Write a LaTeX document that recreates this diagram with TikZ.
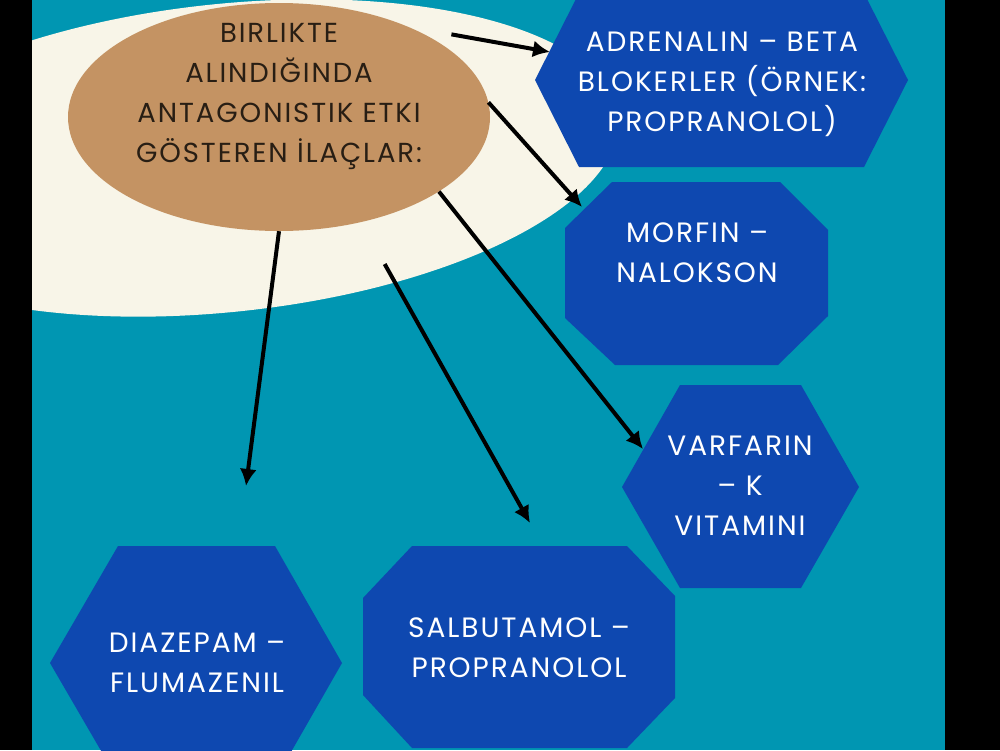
\documentclass[tikz,border=0pt]{standalone}
\usepackage{fontspec}
\setmainfont{Poppins}
\newfontfamily\widefont[LetterSpace=7]{Poppins}
\usetikzlibrary{arrows.meta,shapes.geometric}

\definecolor{bgteal}{RGB}{0,150,178}
\definecolor{cream}{RGB}{248,245,232}
\definecolor{hubtan}{RGB}{196,147,99}
\definecolor{drugblue}{RGB}{14,72,176}
\definecolor{hubink}{RGB}{40,30,20}

\begin{document}
\begin{tikzpicture}[
    x=1pt, y=-1pt,
    hub/.style={ellipse, fill=hubtan, inner sep=0pt, minimum width=422pt, minimum height=228pt},
    hubtext/.style={align=center, text=hubink, font=\widefont\fontsize{27.5}{40}\selectfont},
    drugtext/.style={align=center, text=white, font=\widefont\fontsize{28}{40}\selectfont},
    drugshape/.style={fill=drugblue},
    arrow/.style={-{Latex[length=17pt,width=17pt]}, line width=4pt}
  ]
    \useasboundingbox (0,0) rectangle (1000,750);
    \fill[black] (0,0) rectangle (1000,750);
    \fill[bgteal] (32,0) rectangle (945,750);

    \begin{scope}
      \clip (32,0) rectangle (945,750);
      \fill[cream, rotate around={6:(225,158)}] (225,158) ellipse [x radius=395, y radius=154];
      % drug shapes
      \fill[drugshape] (535,80) -- (579,-7) -- (864,-7) -- (908,80) -- (864,167) -- (579,167) -- cycle;
      \fill[drugshape] (565,228) -- (612,182) -- (780,182) -- (828,230) -- (828,316) -- (778,365) -- (615,365) -- (565,318) -- cycle;
      \fill[drugshape] (622,487) -- (680,385) -- (801,385) -- (859,487) -- (801,588) -- (680,588) -- cycle;
      \fill[drugshape] (50,663) -- (118,546) -- (275,546) -- (342,663) -- (275,780) -- (118,780) -- cycle;
      \fill[drugshape] (363,598) -- (412,546) -- (627,546) -- (675,596) -- (675,698) -- (627,748) -- (412,748) -- (363,695) -- cycle;
    \end{scope}

    \node[hub] (hub) at (279,117) {};
    \node[hubtext] (title) at (279,96) {BIRLIKTE\\ALINDIĞINDA\\ANTAGONISTIK ETKI\\GÖSTEREN İLAÇLAR:};

    \node[drugtext] (adrenalin) at (722,84) {ADRENALIN – BETA\\BLOKERLER (ÖRNEK:\\PROPRANOLOL)};
    \node[drugtext] (morfin) at (697,253) {MORFIN –\\NALOKSON};
    \node[drugtext] (varfarin) at (740,486) {VARFARIN\\– K\\VITAMINI};
    \node[drugtext] (diazepam) at (197,663) {DIAZEPAM –\\FLUMAZENIL};
    \node[drugtext] (salbutamol) at (519,648) {SALBUTAMOL –\\PROPRANOLOL};

    \coordinate (adrenalinIn) at (550,52);
    \coordinate (morfinIn) at (582,207);
    \coordinate (varfarinIn) at (643,449);
    \coordinate (diazepamIn) at (246,486);
    \coordinate (salbutamolIn) at (530,523);

    \draw[arrow, shorten <=44pt] (hub.35) -- (adrenalinIn);
    \draw[arrow] (hub.4) -- (morfinIn);
    \draw[arrow] (hub.-25) -- (varfarinIn);
    \draw[arrow] (hub.south) -- (diazepamIn);
    \draw[arrow, shorten <=48pt] (hub.-52) -- (salbutamolIn);
\end{tikzpicture}
\end{document}
